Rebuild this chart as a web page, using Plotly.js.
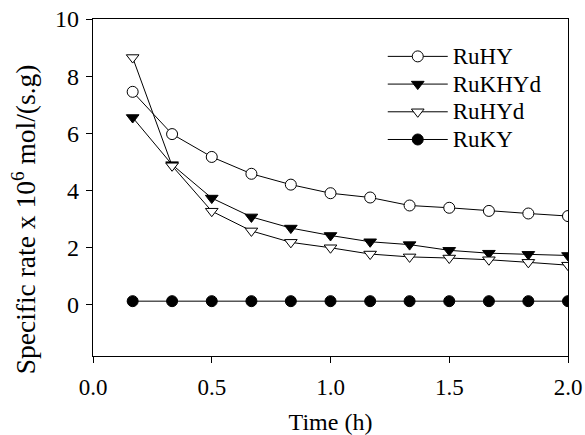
<!DOCTYPE html>
<html>
<head>
<meta charset="utf-8">
<script src="https://cdn.plot.ly/plotly-3.0.1.min.js"></script>
<style>html,body{margin:0;padding:0;background:#fff;}#chart{width:585px;height:435px;}</style>
</head>
<body>
<div id="chart"></div>
<script>
const time = [0.167, 0.333, 0.5, 0.667, 0.833, 1.0, 1.167, 1.333, 1.5, 1.667, 1.833, 2.0];
const ruHY   = [7.45, 5.97, 5.17, 4.58, 4.2, 3.9, 3.75, 3.47, 3.39, 3.28, 3.19, 3.1];
const ruKHYd = [6.55, 4.9, 3.73, 3.07, 2.68, 2.42, 2.2, 2.1, 1.9, 1.8, 1.76, 1.72];
const ruHYd  = [8.65, 4.86, 3.27, 2.58, 2.18, 1.99, 1.77, 1.67, 1.63, 1.57, 1.48, 1.38];
const ruKY   = [0.12, 0.12, 0.12, 0.12, 0.12, 0.12, 0.12, 0.12, 0.12, 0.12, 0.12, 0.12];
const seriesNames = ["RuHY", "RuKHYd", "RuHYd", "RuKY"];
const xTickVals = [0, 0.5, 1.0, 1.5, 2.0];
const xTickText = ["0.0", "0.5", "1.0", "1.5", "2.0"];
const yTickVals = [0, 2, 4, 6, 8, 10];
const xTitle = "Time (h)";
const yTitle = "Specific rate x 10<sup>6</sup> mol/(s.g)";

const font = "Liberation Serif";
const ln = {color: "#000", width: 1};
const legName = n => '<span style="font-size:23px">' + n + '</span>';
const traces = [
  {x: time, y: ruHY, name: legName(seriesNames[0]), mode: "lines+markers", line: ln,
   marker: {symbol: "circle", size: 11, color: "#fff", line: {color: "#000", width: 1}}},
  {x: time, y: ruKHYd, name: legName(seriesNames[1]), mode: "lines+markers", line: ln,
   marker: {symbol: "triangle-down", size: 11, color: "#000", line: {color: "#000", width: 1}}},
  {x: time, y: ruHYd, name: legName(seriesNames[2]), mode: "lines+markers", line: ln,
   marker: {symbol: "triangle-down", size: 11, color: "#fff", line: {color: "#000", width: 1}}},
  {x: time, y: ruKY, name: legName(seriesNames[3]), mode: "lines+markers", line: ln,
   marker: {symbol: "circle", size: 11, color: "#000", line: {color: "#000", width: 1}}}
];

const layout = {
  width: 585, height: 435,
  margin: {l: 93, r: 17, t: 19, b: 79},
  paper_bgcolor: "#fff", plot_bgcolor: "#fff",
  font: {family: font, size: 22, color: "#000"},
  showlegend: true,
  legend: {x: 0.61, y: 0.945, xanchor: "left", yanchor: "top",
           bgcolor: "rgba(0,0,0,0)", font: {family: font, size: 19},
           tracegroupgap: 0, itemwidth: 60},
  xaxis: {
    range: [0, 2.0], tickvals: xTickVals, ticktext: xTickText,
    showgrid: false, zeroline: false, showline: true, linecolor: "#000", linewidth: 1.2,
    mirror: true, ticks: "outside", ticklen: 6, tickcolor: "#000", tickwidth: 1,
    ticklabelstandoff: 4,
    tickfont: {family: font, size: 23},
    title: {text: xTitle, font: {family: font, size: 24}, standoff: 15}
  },
  yaxis: {
    range: [-1.8, 10], tickvals: yTickVals,
    showgrid: false, zeroline: false, showline: true, linecolor: "#000", linewidth: 1.2,
    mirror: true, ticks: "outside", ticklen: 6, tickcolor: "#000", tickwidth: 1,
    ticklabelstandoff: 2,
    tickfont: {family: font, size: 24}
  },
  annotations: [{
    text: yTitle, textangle: -90, showarrow: false,
    xref: "paper", yref: "paper", x: -0.145, y: 0.406,
    xanchor: "center", yanchor: "middle",
    font: {family: font, size: 27.5}
  }]
};

Plotly.newPlot("chart", traces, layout, {staticPlot: true, displayModeBar: false});
</script>
</body>
</html>
